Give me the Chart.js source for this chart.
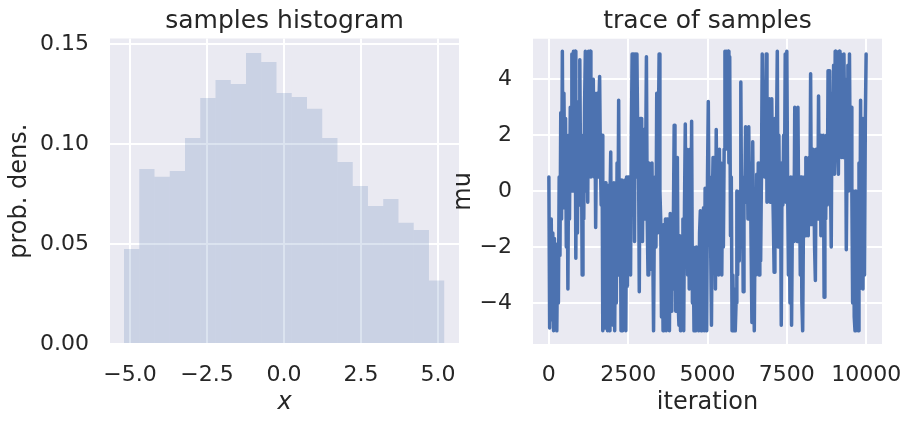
<!DOCTYPE html>
<html>
<head>
<meta charset="utf-8">
<script src="https://cdn.jsdelivr.net/npm/chart.js@4.4.0/dist/chart.umd.min.js"></script>
<style>
  html, body { margin: 0; padding: 0; background: #fff; }
  #wrap { position: relative; width: 913px; height: 425px; overflow: hidden; }
  .box { position: absolute; top: 0; height: 425px; }
  #histBox { left: 0; width: 470px; }
  #traceBox { left: 440px; width: 473px; }
</style>
</head>
<body>
<div id="wrap">
  <div class="box" id="histBox"><canvas id="hist"></canvas></div>
  <div class="box" id="traceBox"><canvas id="trace"></canvas></div>
</div>
<script>
// histogram bins (centres) and densities
const binCenters = [-4.9475, -4.4525, -3.9575, -3.4625, -2.9675, -2.4725, -1.9775,
  -1.4825, -0.9875, -0.4925, 0.0025, 0.4975, 0.9925, 1.4875, 1.9825, 2.4775,
  2.9725, 3.4675, 3.9625, 4.4575, 4.9525];
const binDensity = [0.0475, 0.0875, 0.0837, 0.0865, 0.103, 0.123, 0.132, 0.130,
  0.1455, 0.141, 0.1255, 0.1235, 0.1177, 0.103, 0.091, 0.079, 0.069, 0.0725,
  0.0607, 0.057, 0.0317];
const histXTicks = [-5, -2.5, 0, 2.5, 5];
const histYTicks = [0, 0.05, 0.10, 0.15];

// trace, one value every 25 iterations (8 per row = 200 iterations)
const traceStep = 25;
const traceValues = [
  0.5, -4.9, -2.0, -1.0, -4.6, -1.5, -5.0, -1.7,
  -4.2, -1.9, -5.0, -2.0, -4.0, 0.5, -2.3, 2.8,
  -1.0, 5.0, -0.6, 3.5, 0.2, 2.6, -2.0, 1.5,
  -3.5, 2.0, -1.0, 3.0, 0.0, 4.9, 0.0, 5.0,
  1.5, 5.0, -2.4, 3.2, -1.5, 2.5, -0.5, 4.7,
  0.5, 2.0, -3.0, 1.5, -1.0, 3.0, 5.0, 0.0,
  4.5, -0.4, 5.0, 1.0, 5.0, 0.5, 4.0, 2.0,
  4.0, 0.5, 3.5, -1.3, 2.0, 3.5, 0.5, 3.0,
  4.1, 1.0, -0.5, 2.0, -5.0, -0.5, -4.9, 0.3,
  -4.9, -1.0, -5.0, 0.2, -5.0, -0.5, 1.4, -4.5,
  -0.5, -4.8, 0.3, -5.0, -0.3, -4.0, 1.0, -2.0,
  3.25, -3.0, 0.4, -5.0, 0.4, -5.0, -1.0, -4.8,
  0.4, -5.0, 0.5, -3.4, 0.5, -2.5, 0.3, -3.0,
  2.0, 4.9, 1.0, 4.9, -1.8, 4.9, 0.5, 4.9,
  2.0, 1.5, -3.6, 2.6, -1.0, 2.6, -1.8, 1.5,
  2.2, -1.0, 1.0, 4.8, -1.0, -3.0, 1.0, -2.0,
  0.5, -2.8, 1.0, -2.0, -5.0, -1.0, 0.5, -2.0,
  3.5, -1.5, 2.0, 4.9, 0.0, -1.0, -4.5, -1.5,
  -5.0, -1.2, -4.5, -1.0, -5.0, -1.0, -4.2, -1.2,
  -5.0, -0.8, -4.3, -1.0, -3.5, -1.0, 2.35, -1.0,
  -4.3, -0.5, 1.2, -4.0, -4.8, -1.6, -5.0, -2.0,
  -4.5, -1.0, -5.0, -0.5, 2.4, -2.5, 1.5, -3.0,
  0.5, -3.5, 1.5, -2.0, 2.5, -4.0, -2.0, -5.0,
  -2.2, -5.0, -2.0, -4.5, -2.5, -5.0, -1.5, -0.7,
  -5.0, -1.0, -4.5, -0.6, -5.0, 0.1, -4.0, -5.0,
  0.5, 3.2, -1.0, 0.5, -2.0, -4.8, -0.5, 1.2,
  -1.5, 0.5, -3.5, 2.2, -1.0, 1.0, -3.0, 1.5,
  -2.5, 1.0, -3.0, 0.5, -2.0, 1.5, 5.0, 1.5,
  5.0, 2.0, 5.0, 1.0, 4.8, -1.6, 0.5, -5.0,
  -3.0, -5.0, -3.5, -5.0, -4.0, 0.0, -3.0, -0.5,
  -2.5, 0.0, 3.9, -1.0, 0.5, -3.6, 0.5, -0.4,
  2.3, -0.4, 2.0, -1.0, 2.3, -1.0, 1.0, -2.0,
  -4.7, 1.76, -2.0, -5.0, -1.0, -3.0, 0.6, -2.5,
  1.0, -3.0, 1.0, -2.5, 0.5, 4.9, 1.0, 3.5,
  0.5, 2.0, 4.9, -0.4, 3.0, 0.5, 3.3, -0.4,
  2.0, 3.3, 0.5, -1.0, -2.9, 2.6, -1.5, 2.0,
  5.0, -2.0, 2.0, -1.5, 1.0, -4.8, 1.0, -0.5,
  2.0, 0.0, 4.9, -0.4, 5.0, 0.2, -3.0, 0.2,
  -4.0, 0.5, -4.8, -1.0, 0.5, -1.8, 3.0, -1.0,
  1.0, -1.8, 3.0, -1.0, 0.5, -3.0, 0.5, -4.0,
  -5.0, -1.0, 0.5, -1.6, 1.2, -1.2, 0.5, -1.6,
  1.2, -1.2, 4.2, -1.2, 1.5, -0.5, 1.0, -2.0,
  -3.2, 1.5, 0.5, -1.0, 3.4, -1.0, 2.0, -1.6,
  1.0, -1.0, 2.0, -3.8, 1.0, -1.0, 2.0, -0.5,
  4.3, 1.0, 4.3, 0.5, -2.0, 3.5, 1.0, 4.5,
  0.6, 5.0, 2.0, 4.5, 1.5, 0.6, 5.0, 1.5,
  4.9, 1.2, 4.5, 1.2, 4.9, 2.0, 4.0, -2.1,
  1.5, 4.5, 0.0, 4.9, 0.5, 3.0, 0.0, -4.0,
  0.0, -4.5, -5.0, 0.0, -4.5, -0.5, -5.0, 1.0,
  -3.5, 3.25, -3.0, 2.6, -3.5, 2.0, -3.0, 2.6,
  4.9
];
const traceXTicks = [0, 2500, 5000, 7500, 10000];
const traceYTicks = [-4, -2, 0, 2, 4];

const ink = '#262626';
const minus = s => String(s).replace('-', '\u2212');

Chart.defaults.font.family = "'DejaVu Sans', sans-serif";
Chart.defaults.color = ink;
Chart.defaults.animation = false;

// seaborn style axes background
const axesBg = {
  id: 'axesBg',
  beforeDraw(chart) {
    const { ctx, chartArea: a } = chart;
    ctx.save();
    ctx.fillStyle = '#eaeaf2';
    ctx.fillRect(a.left, a.top, a.width, a.height);
    ctx.restore();
  }
};

const grid = { color: '#ffffff', lineWidth: 2, drawTicks: false, offset: false };
const tickFont = { size: 22 };
const labelFont = { size: 24 };

// pin scale sizes and drop the label overflow padding so chart areas land exactly
function fixed(n) { return s => { s.width = n; s.paddingTop = 0; s.paddingBottom = 0; }; }
function fixedH(n) { return s => { s.height = n; s.paddingLeft = 0; s.paddingRight = 0; }; }
function useTicks(list) { return s => { s.ticks = list.map(v => ({ value: v })); }; }

new Chart(document.getElementById('hist'), {
  type: 'bar',
  data: {
    datasets: [{
      data: binCenters.map((c, i) => ({ x: c, y: binDensity[i] })),
      backgroundColor: 'rgba(76,114,176,0.2)',
      borderWidth: 0,
      inflateAmount: 0,
      barPercentage: 1,
      categoryPercentage: 1
    }]
  },
  options: {
    responsive: true,
    maintainAspectRatio: false,
    layout: { autoPadding: false, padding: { left: 0, right: 11, top: 0, bottom: 0 } },
    plugins: {
      legend: { display: false },
      tooltip: { enabled: false },
      title: {
        display: true, fullSize: false, text: 'samples histogram', color: ink,
        font: { size: 25, weight: 'normal' },
        padding: { top: 6.1, bottom: 2.4 }
      }
    },
    scales: {
      x: {
        type: 'linear', min: -5.65, max: 5.68, offset: false,
        grid, border: { display: false },
        afterBuildTicks: useTicks(histXTicks),
        afterFit: fixedH(81),
        ticks: { font: tickFont, padding: 18, maxRotation: 0, callback: v => minus(v.toFixed(1)) },
        title: { display: true, text: 'x', font: { size: 24, style: 'italic' }, padding: { top: 0, bottom: 7.7 } }
      },
      y: {
        min: 0, max: 0.1528,
        grid, border: { display: false },
        afterBuildTicks: useTicks(histYTicks),
        afterFit: fixed(110),
        ticks: { font: tickFont, padding: 21, callback: v => v.toFixed(2) },
        title: { display: true, text: 'prob. dens.', font: labelFont, padding: { top: 5.6, bottom: 0 } }
      }
    }
  },
  plugins: [axesBg]
});

new Chart(document.getElementById('trace'), {
  type: 'line',
  data: {
    datasets: [{
      data: traceValues.map((v, i) => ({ x: i * traceStep, y: v })),
      borderColor: '#4c72b0',
      borderWidth: 3.5,
      borderJoinStyle: 'round',
      borderCapStyle: 'round',
      pointRadius: 0,
      tension: 0,
      fill: false
    }]
  },
  options: {
    responsive: true,
    maintainAspectRatio: false,
    layout: { autoPadding: false, padding: { left: 0, right: 31, top: 0, bottom: 0 } },
    plugins: {
      legend: { display: false },
      tooltip: { enabled: false },
      title: {
        display: true, fullSize: false, text: 'trace of samples', color: ink,
        font: { size: 25, weight: 'normal' },
        padding: { top: 6.1, bottom: 2.6 }
      }
    },
    scales: {
      x: {
        type: 'linear', min: -500, max: 10500,
        grid, border: { display: false },
        afterBuildTicks: useTicks(traceXTicks),
        afterFit: fixedH(81),
        ticks: { font: tickFont, padding: 18, maxRotation: 0, callback: v => String(v) },
        title: { display: true, text: 'iteration', font: labelFont, padding: { top: 0, bottom: 7.7 } }
      },
      y: {
        min: -5.47, max: 5.45,
        grid, border: { display: false },
        afterBuildTicks: useTicks(traceYTicks),
        afterFit: fixed(93),
        ticks: { font: tickFont, padding: 21, callback: v => minus(v) },
        title: { display: true, text: 'mu', font: labelFont, padding: { top: 9, bottom: 0 } }
      }
    }
  },
  plugins: [axesBg]
});
</script>
</body>
</html>
